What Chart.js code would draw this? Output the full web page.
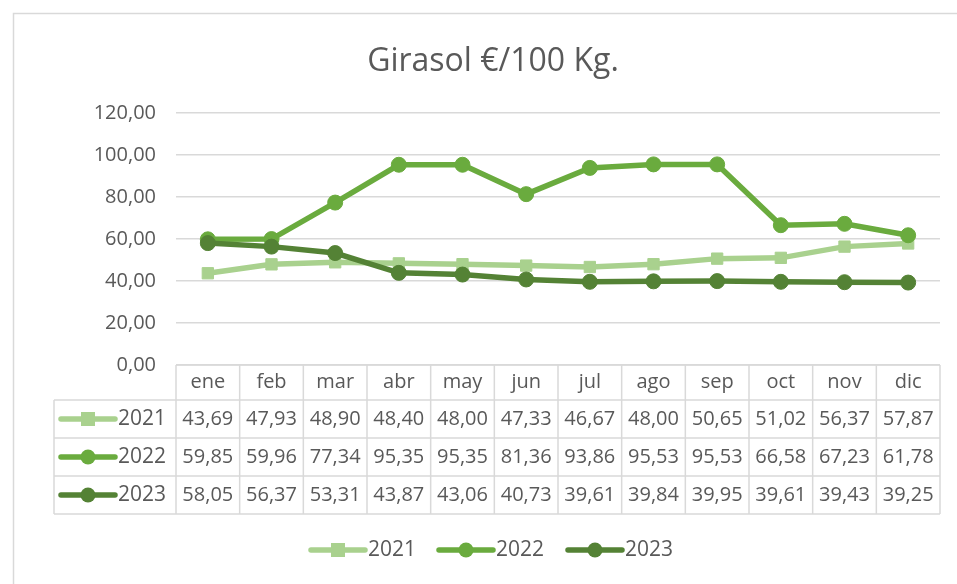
<!DOCTYPE html>
<html lang="es">
<head>
<meta charset="UTF-8">
<title>Girasol €/100 Kg.</title>
<script src="https://cdn.jsdelivr.net/npm/chart.js"></script>
<style>
  html, body { margin: 0; padding: 0; background: #fff; }
  #chart { display: block; }
</style>
</head>
<body>
<canvas id="chart" width="957" height="584"></canvas>
<script>
// datos
const months = ['ene', 'feb', 'mar', 'abr', 'may', 'jun', 'jul', 'ago', 'sep', 'oct', 'nov', 'dic'];
const years = ['2021', '2022', '2023'];
const v2021 = [43.69, 47.93, 48.90, 48.40, 48.00, 47.33, 46.67, 48.00, 50.65, 51.02, 56.37, 57.87];
const v2022 = [59.85, 59.96, 77.34, 95.35, 95.35, 81.36, 93.86, 95.53, 95.53, 66.58, 67.23, 61.78];
const v2023 = [58.05, 56.37, 53.31, 43.87, 43.06, 40.73, 39.61, 39.84, 39.95, 39.61, 39.43, 39.25];
const yTickMin = 0, yTickMax = 120, yTickStep = 20;

const FONT = '"Open Sans", "Liberation Sans", sans-serif';
const TXT = '#595959';
const GRID = '#d9d9d9';

const fmt = v => v.toFixed(2).replace('.', ',');

function legendKey(ctx, ds, x, y) {
    // short line with the marker in the middle
    ctx.save();
    ctx.strokeStyle = ds.borderColor;
    ctx.lineWidth = 5.5;
    ctx.lineCap = 'round';
    ctx.beginPath();
    ctx.moveTo(x, y);
    ctx.lineTo(x + 54, y);
    ctx.stroke();
    ctx.fillStyle = ds.pointBackgroundColor;
    if (ds.pointStyle === 'rect') {
        ctx.fillRect(x + 27 - 7, y - 7, 14, 14);
    } else {
        ctx.beginPath();
        ctx.arc(x + 27, y, 7.5, 0, Math.PI * 2);
        ctx.fill();
    }
    ctx.restore();
}

// draws the frame, the title, the data table and the legend
const extras = {
    id: 'extras',
    beforeDraw(chart) {
        const ctx = chart.ctx;
        ctx.save();
        ctx.strokeStyle = GRID;
        ctx.lineWidth = 1.5;
        ctx.strokeRect(13.5, 13.5, 1000, 700);
        ctx.fillStyle = TXT;
        ctx.font = '32px ' + FONT;
        ctx.textAlign = 'center';
        ctx.textBaseline = 'middle';
        ctx.fillText('Girasol €/100 Kg.', 493, 62);
        ctx.restore();
    },
    afterDraw(chart) {
        const ctx = chart.ctx;
        const xs = chart.scales.x;
        const area = chart.chartArea;
        const half = (xs.getPixelForValue(1) - xs.getPixelForValue(0)) / 2;
        const rowsY = [area.bottom, 400, 438, 476, 514];
        const leftX = 54;

        ctx.save();
        ctx.strokeStyle = GRID;
        ctx.lineWidth = 1.5;
        // horizontal lines
        ctx.beginPath();
        ctx.moveTo(area.left, rowsY[0]);
        ctx.lineTo(area.right, rowsY[0]);
        for (let r = 1; r < rowsY.length; r++) {
            ctx.moveTo(leftX, rowsY[r]);
            ctx.lineTo(area.right, rowsY[r]);
        }
        // vertical lines
        ctx.moveTo(leftX, rowsY[1]);
        ctx.lineTo(leftX, rowsY[4]);
        for (let i = 0; i <= months.length; i++) {
            const x = i < months.length ? xs.getPixelForValue(i) - half : xs.getPixelForValue(months.length - 1) + half;
            ctx.moveTo(x, rowsY[0]);
            ctx.lineTo(x, rowsY[4]);
        }
        ctx.stroke();

        ctx.fillStyle = TXT;
        ctx.font = '20px ' + FONT;
        ctx.textAlign = 'center';
        ctx.textBaseline = 'middle';
        months.forEach((m, i) => {
            const x = xs.getPixelForValue(i);
            ctx.fillText(m, x, (rowsY[0] + rowsY[1]) / 2);
            chart.data.datasets.forEach((ds, d) => {
                ctx.fillText(fmt(ds.data[i]), x, (rowsY[d + 1] + rowsY[d + 2]) / 2);
            });
        });
        ctx.font = '21px ' + FONT;
        chart.data.datasets.forEach((ds, d) => {
            const y = (rowsY[d + 1] + rowsY[d + 2]) / 2;
            legendKey(ctx, ds, 61, y);
            ctx.fillStyle = TXT;
            ctx.textAlign = 'left';
            ctx.fillText(ds.label, 118, y);
        });

        // legend below
        const legX = [311, 439, 568];
        chart.data.datasets.forEach((ds, d) => {
            legendKey(ctx, ds, legX[d], 550);
            ctx.fillStyle = TXT;
            ctx.textAlign = 'left';
            ctx.fillText(ds.label, legX[d] + 57, 550);
        });
        ctx.restore();
    }
};

const series = [
    { label: years[0], data: v2021, color: '#a9d18e', style: 'rect', order: 2 },
    { label: years[1], data: v2022, color: '#6aab3e', style: 'circle', order: 1 },
    { label: years[2], data: v2023, color: '#548235', style: 'circle', order: 0 }
];

new Chart(document.getElementById('chart'), {
    type: 'line',
    data: {
        labels: months,
        datasets: series.map(s => ({
            label: s.label,
            data: s.data,
            order: s.order,
            borderColor: s.color,
            backgroundColor: s.color,
            pointBackgroundColor: s.color,
            pointBorderColor: s.color,
            pointStyle: s.style,
            pointRadius: s.style === 'rect' ? 8 : 7.5,
            pointBorderWidth: 1,
            borderWidth: 5.5,
            tension: 0
        }))
    },
    options: {
        responsive: false,
        animation: false,
        layout: { padding: { top: 113, bottom: 219, left: 60, right: 17 } },
        scales: {
            x: { display: false, offset: true },
            y: {
                min: yTickMin,
                max: yTickMax,
                afterFit: s => { s.width = 116; },
                border: { display: false },
                grid: { color: GRID, lineWidth: 1.5, drawTicks: false },
                ticks: {
                    stepSize: yTickStep,
                    padding: 20,
                    color: TXT,
                    font: { family: FONT, size: 20 },
                    callback: v => fmt(v)
                }
            }
        },
        plugins: {
            legend: { display: false },
            title: { display: false },
            tooltip: { enabled: false }
        }
    },
    plugins: [extras]
});
</script>
</body>
</html>
